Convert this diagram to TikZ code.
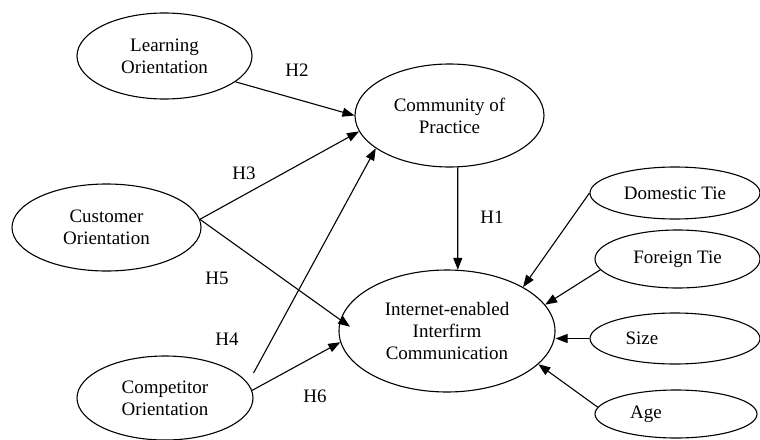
\documentclass[tikz,border=0pt]{standalone}
\usepackage{fontspec}
\setmainfont{Liberation Serif}
\usetikzlibrary{shapes.geometric,arrows.meta}
\begin{document}
\begin{tikzpicture}[x=1pt,y=-1pt,
  ell/.style={ellipse,draw,line width=1.1pt,inner sep=0pt,align=center,
    font=\fontsize{19}{22}\selectfont},
  lbl/.style={font=\fontsize{19}{22}\selectfont,inner sep=0pt},
  arr/.style={line width=1.1pt,-{Triangle[length=12pt,width=9pt]}}]
\useasboundingbox (0,0) rectangle (760,439);
\node[ell,minimum width=175pt,minimum height=86pt] (lo) at (164.5,56) {Learning\\Orientation};
\node[ell,minimum width=189pt,minimum height=103pt] (cop) at (449.5,115.5) {Community of\\Practice};
\node[ell,minimum width=189pt,minimum height=87pt] (cus) at (106.5,227.5) {Customer\\Orientation};
\node[ell,minimum width=176pt,minimum height=84pt] (com) at (165,398) {Competitor\\Orientation};
\node[ell,minimum width=216pt,minimum height=122pt] (iec) at (447,331) {Internet-enabled\\Interfirm\\Communication};
\node[ell,minimum width=170pt,minimum height=52pt] (dom) at (675,193) {Domestic Tie};
\node[ell,minimum width=165pt,minimum height=58pt] (for) at (677.5,259) {Foreign Tie};
\node[ell,minimum width=170pt,minimum height=51pt,label={[lbl,xshift=-33pt]center:Size}] (siz) at (675,338.5) {};
\node[ell,minimum width=162pt,minimum height=48pt,label={[lbl,xshift=-30pt]center:Age}] (age) at (676,414) {};
\node[lbl] (h1) at (492,217) {H1};
\node[lbl] (h2) at (297,70) {H2};
\node[lbl] (h3) at (244,173) {H3};
\node[lbl] (h4) at (227,339) {H4};
\node[lbl] (h5) at (217,278) {H5};
\node[lbl] (h6) at (315,396) {H6};
\draw[arr] (lo.-20) -- (cop.180);
\draw[arr] (cus.5) -- (cop.190.5);
\draw[arr,shorten >=-12pt] (cus.5) -- (iec.174);
\draw[arr] ([yshift=25pt]com.east) -- (cop.204);
\draw[arr] (com.5) -- (iec.186);
\draw[arr] (cop.-81.7) -- (iec.80.6);
\draw[arr] (dom.west) -- (iec.30);
\draw[arr] (for.188.4) -- (iec.15.4);
\draw[arr] (siz.west) -- (siz.west -| iec.east);
\draw[arr] (age.175.7) -- (iec.-20);
\end{tikzpicture}
\end{document}
